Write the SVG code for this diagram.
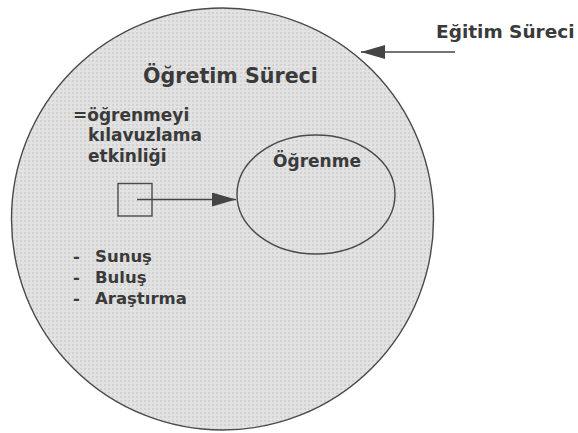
<svg xmlns="http://www.w3.org/2000/svg" width="578" height="433" viewBox="0 0 578 433">
  <style>
    .t { font-family: "DejaVu Sans", "Liberation Sans", sans-serif; font-weight: bold; fill: #3a3a3a; }
    .outline { stroke: #4a4a4a; stroke-width: 1.4; }
    .conn { stroke: #444; stroke-width: 1.5; fill: none; }
  </style>
  <defs>
    <pattern id="dots" width="4" height="4" patternUnits="userSpaceOnUse">
      <rect width="4" height="4" fill="#e2e2e2"/>
      <rect x="0" y="0" width="2" height="2" fill="#d2d2d2"/>
    </pattern>
    <marker id="head" viewBox="0 0 24 14" refX="24" refY="7" markerWidth="24" markerHeight="14" markerUnits="userSpaceOnUse" orient="auto">
      <path d="M0,0 L24,7 L0,14 Z" fill="#444"/>
    </marker>
  </defs>
  <rect width="578" height="433" fill="#ffffff"/>

  <g id="egitim-sureci">
    <circle cx="222.5" cy="219" r="211" fill="url(#dots)" class="outline"/>
    <text class="t" x="436" y="38" font-size="18.5">Eğitim Süreci</text>
  </g>

  <g id="ogretim-sureci">
    <text class="t" x="230.5" y="82.5" font-size="20.6" text-anchor="middle">Öğretim Süreci</text>
    <text class="t" x="73" y="120.5" font-size="17">=öğrenmeyi</text>
    <text class="t" x="88" y="141" font-size="17">kılavuzlama</text>
    <text class="t" x="88" y="161.5" font-size="17">etkinliği</text>
    <text class="t" x="73" y="262" font-size="16.5">-</text>
    <text class="t" x="95" y="262" font-size="16.5">Sunuş</text>
    <text class="t" x="73" y="283" font-size="16.5">-</text>
    <text class="t" x="95" y="283" font-size="16.5">Buluş</text>
    <text class="t" x="73" y="304" font-size="16.5">-</text>
    <text class="t" x="95" y="304" font-size="16.5">Araştırma</text>
  </g>

  <g id="kutu">
    <rect x="118" y="183.5" width="34" height="32.5" fill="none" class="outline"/>
  </g>

  <g id="ogrenme">
    <ellipse cx="316" cy="194.5" rx="79" ry="59.5" fill="url(#dots)" class="outline"/>
    <text class="t" x="317" y="167" font-size="17" text-anchor="middle">Öğrenme</text>
  </g>

  <g id="connectors">
    <line x1="455" y1="52" x2="361" y2="52" class="conn" marker-end="url(#head)"/>
    <line x1="137" y1="199.5" x2="236" y2="199.5" class="conn" marker-end="url(#head)"/>
  </g>
</svg>
